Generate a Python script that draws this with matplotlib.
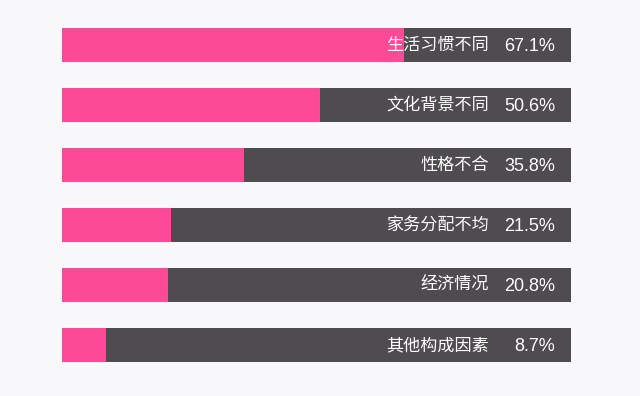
import matplotlib
matplotlib.use("Agg")
import matplotlib.pyplot as plt

plt.rcParams["font.family"] = ["Noto Sans CJK SC", "DejaVu Sans"]

# data
categories = ["生活习惯不同", "文化背景不同", "性格不合", "家务分配不均", "经济情况", "其他构成因素"]
values = [67.1, 50.6, 35.8, 21.5, 20.8, 8.7]
value_labels = ["67.1%", "50.6%", "35.8%", "21.5%", "20.8%", "8.7%"]

PINK = "#fd4a97"
DARK = "#4e4c4e"
BG = "#f8f7f9"

fig = plt.figure(figsize=(6.4, 3.96), dpi=100, facecolor=BG)
ax = fig.add_axes([62 / 640, 21 / 396, 509 / 640, 360 / 396])
ax.set_facecolor(BG)

ys = list(range(len(categories)))
bar_h = 34 / 60

# dark background bar (full 100%) then pink share on top
ax.barh(ys, [100] * len(ys), height=bar_h, color=DARK, zorder=1)
ax.barh(ys, values, height=bar_h, color=PINK, zorder=2)

for y, cat, lab in zip(ys, categories, value_labels):
    ax.text(83.9, y, cat, ha="right", va="center", color="white",
            fontsize=12.3, zorder=3)
    ax.text(96.9, y + 0.02, lab, ha="right", va="center", color="white",
            fontsize=13, family=["Liberation Sans", "DejaVu Sans"], zorder=3)

ax.set_xlim(0, 100)
ax.set_ylim(len(ys) - 0.5, -0.5)
ax.axis("off")

plt.savefig("out.png", dpi=100, facecolor=BG)
